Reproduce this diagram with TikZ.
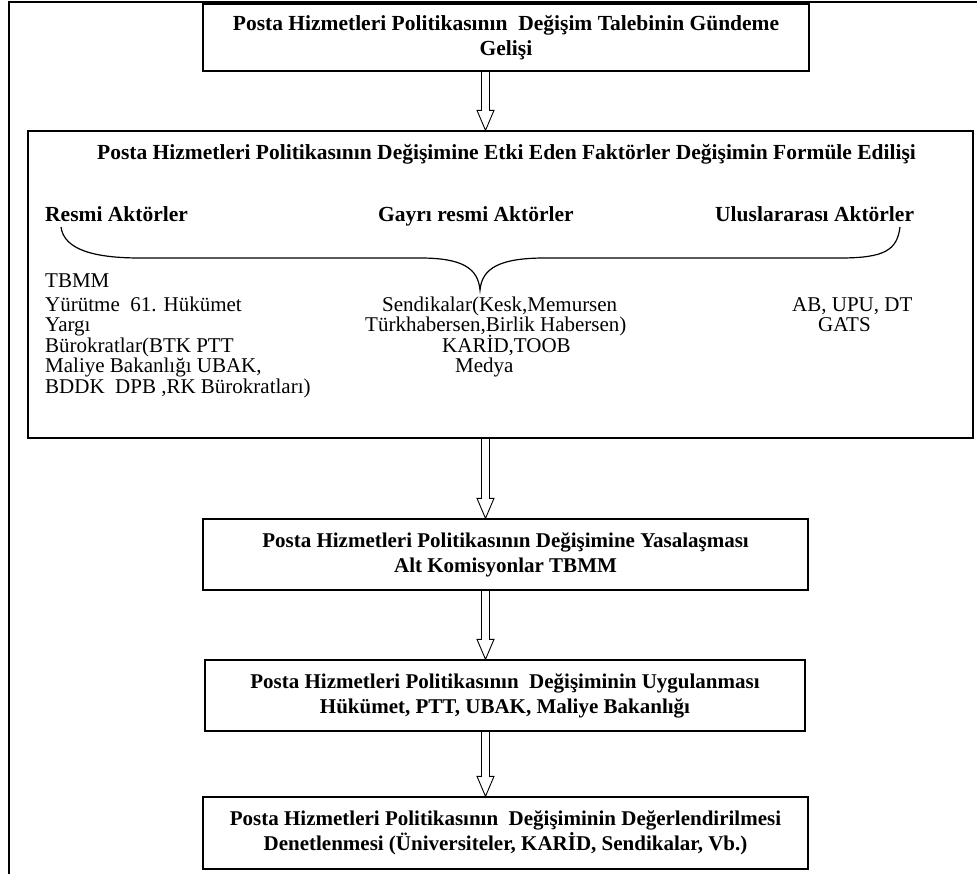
\documentclass[tikz,border=0pt]{standalone}
\usepackage{fontspec}
\setmainfont{Liberation Serif}
\usetikzlibrary{calc}
\newcommand\ttlfnt{\fontsize{21.5}{25}\selectfont\bfseries}
\newcommand\bxfnt{\fontsize{21}{25}\selectfont\bfseries}
\newcommand\lstfnt{\fontsize{21}{20.6}\selectfont}
\newcommand\hollowarrow[2]{%
  \draw[arrowline] ($(#1.south -| ax)+(-4,0)$) -- ($(#2.north -| ax)+(-4,-20)$)
    -- ($(#2.north -| ax)+(-8.5,-20)$) -- (#2.north -| ax)
    -- ($(#2.north -| ax)+(8.5,-20)$) -- ($(#2.north -| ax)+(4,-20)$)
    -- ($(#1.south -| ax)+(4,0)$);}
\begin{document}
\begin{tikzpicture}[x=1pt,y=-1pt,
  box/.style={draw, line width=1.3pt, inner sep=0pt, align=center, font=\bxfnt},
  txt/.style={inner sep=0pt, font=\lstfnt},
  hdr/.style={inner sep=0pt, font=\ttlfnt},
  arrowline/.style={line width=0.9pt, line join=miter},
  frame/.style={line width=1.6pt},
  bracestyle/.style={line width=1.2pt}]
\useasboundingbox (0,0) rectangle (977,874);
\coordinate (ax) at (485.5,0);
% outer frame
\draw[frame] (9,874) -- (9,2) -- (977,2);
% box 1
\node[box, font=\ttlfnt, minimum width=606pt, minimum height=67pt] (b1) at (506,37.5)
  {Posta Hizmetleri Politikasının\ \ Değişim Talebinin Gündeme\\Gelişi};
% box 2
\node[box, minimum width=945pt, minimum height=307pt] (b2) at (500.5,284.5) {};
\node[hdr, anchor=base] (t2) at (506.5,160)
  {Posta Hizmetleri Politikasının Değişimine Etki Eden Faktörler Değişimin Formüle Edilişi};
\node[hdr, anchor=base west] (h1) at (45,222) {Resmi Aktörler};
\node[hdr, anchor=base west] (h2) at (378,222) {Gayrı resmi Aktörler};
\node[hdr, anchor=base west] (h3) at (715,222) {Uluslararası Aktörler};
\draw[bracestyle] (61,227) .. controls (64,250) and (95,258) .. (140,258)
  -- (420,258) .. controls (462,258) and (478,268) .. (480,290)
  .. controls (482,268) and (500,258) .. (545,258)
  -- (840,258) .. controls (885,258) and (897,250) .. (900,227);
\node[txt, anchor=base west] (l1) at (45,288) {TBMM};
\node[txt, anchor=base west] (l2) at (45,311.5) {Yürütme\ \ 61. Hükümet};
\node[txt, anchor=base west] (l3) at (45,332) {Yargı};
\node[txt, anchor=base west] (l4) at (45,352.5) {Bürokratlar(BTK PTT};
\node[txt, anchor=base west] (l5) at (45,373) {Maliye Bakanlığı UBAK,};
\node[txt, anchor=base west] (l6) at (45,393.5) {BDDK\ \ DPB ,RK Bürokratları)};
\node[txt, anchor=base west] (m1) at (382,311.5) {Sendikalar(Kesk,Memursen};
\node[txt, anchor=base west] (m2) at (365,332) {Türkhabersen,Birlik Habersen)};
\node[txt, anchor=base west] (m3) at (442,352.5) {KARİD,TOOB};
\node[txt, anchor=base west] (m4) at (455,373) {Medya};
\node[txt, anchor=base west] (r1) at (792,311.5) {AB, UPU, DT};
\node[txt, anchor=base west] (r2) at (818,332) {GATS};
% box 3-5
\node[box, minimum width=605pt, minimum height=71pt] (b3) at (505.5,554.5)
  {Posta Hizmetleri Politikasının Değişimine Yasalaşması\\Alt Komisyonlar TBMM};
\node[box, minimum width=600pt, minimum height=71pt] (b4) at (505,695.5)
  {Posta Hizmetleri Politikasının\ \ Değişiminin Uygulanması\\Hükümet, PTT, UBAK, Maliye Bakanlığı};
\node[box, minimum width=605pt, minimum height=72pt] (b5) at (505.5,833)
  {Posta Hizmetleri Politikasının\ \ Değişiminin Değerlendirilmesi\\Denetlenmesi (Üniversiteler, KARİD, Sendikalar, Vb.)};
% arrows
\hollowarrow{b1}{b2}
\hollowarrow{b2}{b3}
\hollowarrow{b3}{b4}
\hollowarrow{b4}{b5}
\end{tikzpicture}
\end{document}
